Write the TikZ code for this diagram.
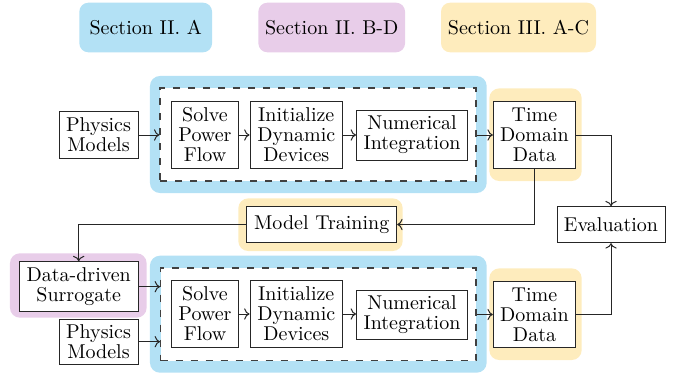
\documentclass[tikz,border=0pt]{standalone}
\usetikzlibrary{arrows.meta}
\definecolor{cblue}{RGB}{179,225,245}
\definecolor{cpurple}{RGB}{232,205,233}
\definecolor{cyellow}{RGB}{254,236,189}
\begin{document}
\begin{tikzpicture}[x=0.5pt,y=-0.5pt,
 box/.style={draw=black!85, line width=0.45pt, fill=white, align=center, inner sep=0pt, font=\fontsize{10}{10}\selectfont},
 bgbox/.style={rounded corners=5pt, inner sep=0pt, draw=none},
 legend/.style={rounded corners=4.5pt, inner sep=0pt, align=center, font=\fontsize{10}{12}\selectfont, minimum height=24.8pt},
 dbox/.style={draw=black!75, dash pattern=on 3.5pt off 4pt, line width=0.6pt, inner sep=0pt, fill=white},
 arr/.style={->, line width=0.5pt, draw=black!85}
]
\useasboundingbox (0,0) rectangle (683,374);
% legend
\node[legend, fill=cblue, minimum width=66.35pt] (l1) at (145.7,27.5) {Section II. A};
\node[legend, fill=cpurple, minimum width=73.35pt] (l2) at (331.7,27.5) {Section II. B-D};
\node[legend, fill=cyellow, minimum width=77.5pt] (l3) at (518.5,27.5) {Section III. A-C};
% backgrounds
\node[bgbox, fill=cblue, minimum width=168.35pt, minimum height=58.5pt] (b1) at (318.3,134.5) {};
\node[dbox, minimum width=158pt, minimum height=46.5pt] (d1) at (318,134.5) {};
\node[bgbox, fill=cyellow, minimum width=46.2pt, minimum height=46.35pt] (y1) at (535.5,134.7) {};
\node[bgbox, fill=cblue, minimum width=168.35pt, minimum height=58.5pt] (b2) at (318.3,314.2) {};
\node[dbox, minimum width=157.65pt, minimum height=46.35pt] (d2) at (318.3,314.3) {};
\node[bgbox, fill=cyellow, minimum width=46.2pt, minimum height=45.85pt] (y2) at (535.5,314.2) {};
\node[bgbox, fill=cyellow, minimum width=82.2pt, minimum height=26.35pt] (y3) at (320.5,224.7) {};
\node[bgbox, fill=cpurple, minimum width=68.35pt, minimum height=32.2pt] (p1) at (78.3,285.5) {};
% top row
\node[box, minimum width=39.5pt, minimum height=23.3pt] (pm1) at (98.5,135) {Physics\\Models};
\node[box, minimum width=33.7pt, minimum height=33.3pt] (spf1) at (205,135) {Solve\\Power\\Flow};
\node[box, minimum width=46.35pt, minimum height=33.3pt] (idd1) at (296.3,135) {Initialize\\Dynamic\\Devices};
\node[box, minimum width=55.5pt, minimum height=25pt] (ni1) at (412,135) {Numerical\\Integration};
\node[box, minimum width=41.2pt, minimum height=33.3pt] (td1) at (534.5,135) {Time\\Domain\\Data};
% middle
\node[box, minimum width=54pt, minimum height=18pt] (ev) at (611,224.7) {Evaluation};
\node[box, minimum width=75pt, minimum height=17.8pt] (mt) at (321.7,224.5) {Model Training};
% bottom row
\node[box, minimum width=59.35pt, minimum height=25pt] (dd) at (78.7,286.7) {Data-driven\\Surrogate};
\node[box, minimum width=39.5pt, minimum height=22.35pt] (pm2) at (98.5,341.7) {Physics\\Models};
\node[box, minimum width=33.7pt, minimum height=33.3pt] (spf2) at (205,314) {Solve\\Power\\Flow};
\node[box, minimum width=46.35pt, minimum height=33.3pt] (idd2) at (296.3,314) {Initialize\\Dynamic\\Devices};
\node[box, minimum width=55.5pt, minimum height=24.65pt] (ni2) at (412,314.7) {Numerical\\Integration};
\node[box, minimum width=41.2pt, minimum height=32.8pt] (td2) at (534.5,314.5) {Time\\Domain\\Data};
% connectors
\draw[arr] (pm1.east) -- (pm1.east -| d1.west);
\draw[arr] (spf1.east) -- (idd1.west);
\draw[arr] (idd1.east) -- (ni1.west);
\draw[arr] (d1.east |- td1.west) -- (td1.west);
\draw[arr] (td1.east) -| (ev.north);
\draw[arr] (td1.south) |- (mt.east);
\draw[arr] (mt.west) -| (dd.north);
\draw[arr] (dd.east) -- (dd.east -| d2.west);
\draw[arr] (pm2.east) -- (pm2.east -| d2.west);
\draw[arr] (spf2.east) -- (idd2.west);
\draw[arr] (idd2.east) -- (idd2.east -| ni2.west);
\draw[arr] (d2.east |- td2.west) -- (td2.west);
\draw[arr] (td2.east) -| (ev.south);
\end{tikzpicture}
\end{document}
